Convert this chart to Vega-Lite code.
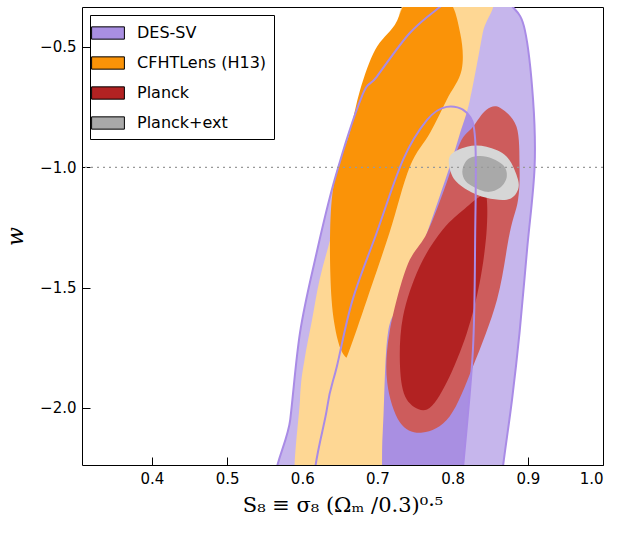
{
  "$schema": "https://vega.github.io/schema/vega-lite/v6.json",
  "autosize": "none",
  "width": 521,
  "height": 458,
  "padding": {"left": 82, "top": 7, "right": 18, "bottom": 69},
  "config": {
    "font": "DejaVu Sans",
    "view": {"stroke": "black", "strokeWidth": 1},
    "axis": {"grid": false, "domain": false, "tickSize": -8, "tickColor": "black", "labelFontSize": 15, "labelColor": "black", "labelPadding": 14, "titleFontWeight": "normal", "titleColor": "black"}
  },
  "datasets": {
    "shapes": [
      {"s": "desOut", "o": 1, "x": 0.570, "y": -2.40},
      {"s": "desOut", "o": 2, "x": 0.584, "y": -2.048},
      {"s": "desOut", "o": 3, "x": 0.597, "y": -1.687},
      {"s": "desOut", "o": 4, "x": 0.617, "y": -1.384},
      {"s": "desOut", "o": 5, "x": 0.643, "y": -1.052},
      {"s": "desOut", "o": 6, "x": 0.679, "y": -0.707},
      {"s": "desOut", "o": 7, "x": 0.699, "y": -0.624},
      {"s": "desOut", "o": 8, "x": 0.743, "y": -0.442},
      {"s": "desOut", "o": 9, "x": 0.783, "y": -0.334},
      {"s": "desOut", "o": 10, "x": 0.80, "y": -0.30},
      {"s": "desOut", "o": 11, "x": 0.86, "y": -0.30},
      {"s": "desOut", "o": 12, "x": 0.880, "y": -0.334},
      {"s": "desOut", "o": 13, "x": 0.896, "y": -0.429},
      {"s": "desOut", "o": 14, "x": 0.907, "y": -0.720},
      {"s": "desOut", "o": 15, "x": 0.909, "y": -1.0},
      {"s": "desOut", "o": 16, "x": 0.899, "y": -1.342},
      {"s": "desOut", "o": 17, "x": 0.889, "y": -1.687},
      {"s": "desOut", "o": 18, "x": 0.879, "y": -1.965},
      {"s": "desOut", "o": 19, "x": 0.867, "y": -2.243},
      {"s": "desOut", "o": 20, "x": 0.862, "y": -2.40},
      {"s": "desOut", "o": 21, "x": 0.72, "y": -2.55},
      {"s": "desIn", "o": 1, "x": 0.620, "y": -2.40},
      {"s": "desIn", "o": 2, "x": 0.633, "y": -2.0},
      {"s": "desIn", "o": 3, "x": 0.646, "y": -1.828},
      {"s": "desIn", "o": 4, "x": 0.667, "y": -1.550},
      {"s": "desIn", "o": 5, "x": 0.699, "y": -1.272},
      {"s": "desIn", "o": 6, "x": 0.734, "y": -0.969},
      {"s": "desIn", "o": 7, "x": 0.766, "y": -0.803},
      {"s": "desIn", "o": 8, "x": 0.792, "y": -0.749},
      {"s": "desIn", "o": 9, "x": 0.819, "y": -0.774},
      {"s": "desIn", "o": 10, "x": 0.830, "y": -0.886},
      {"s": "desIn", "o": 11, "x": 0.830, "y": -1.272},
      {"s": "desIn", "o": 12, "x": 0.827, "y": -1.757},
      {"s": "desIn", "o": 13, "x": 0.814, "y": -2.243},
      {"s": "desIn", "o": 14, "x": 0.810, "y": -2.40},
      {"s": "desIn", "o": 15, "x": 0.72, "y": -2.50},
      {"s": "cfOut", "o": 1, "x": 0.592, "y": -2.40},
      {"s": "cfOut", "o": 2, "x": 0.597, "y": -1.965},
      {"s": "cfOut", "o": 3, "x": 0.603, "y": -1.799},
      {"s": "cfOut", "o": 4, "x": 0.613, "y": -1.633},
      {"s": "cfOut", "o": 5, "x": 0.623, "y": -1.467},
      {"s": "cfOut", "o": 6, "x": 0.637, "y": -1.301},
      {"s": "cfOut", "o": 7, "x": 0.650, "y": -1.135},
      {"s": "cfOut", "o": 8, "x": 0.666, "y": -0.969},
      {"s": "cfOut", "o": 9, "x": 0.683, "y": -0.803},
      {"s": "cfOut", "o": 10, "x": 0.703, "y": -0.637},
      {"s": "cfOut", "o": 11, "x": 0.723, "y": -0.492},
      {"s": "cfOut", "o": 12, "x": 0.743, "y": -0.30},
      {"s": "cfOut", "o": 13, "x": 0.848, "y": -0.30},
      {"s": "cfOut", "o": 14, "x": 0.840, "y": -0.442},
      {"s": "cfOut", "o": 15, "x": 0.823, "y": -0.720},
      {"s": "cfOut", "o": 16, "x": 0.810, "y": -0.857},
      {"s": "cfOut", "o": 17, "x": 0.796, "y": -0.998},
      {"s": "cfOut", "o": 18, "x": 0.766, "y": -1.272},
      {"s": "cfOut", "o": 19, "x": 0.734, "y": -1.550},
      {"s": "cfOut", "o": 20, "x": 0.714, "y": -1.687},
      {"s": "cfOut", "o": 21, "x": 0.707, "y": -2.102},
      {"s": "cfOut", "o": 22, "x": 0.699, "y": -2.40},
      {"s": "cfOut", "o": 23, "x": 0.645, "y": -2.50},
      {"s": "cfIn", "o": 1, "x": 0.743, "y": -0.30},
      {"s": "cfIn", "o": 2, "x": 0.792, "y": -0.30},
      {"s": "cfIn", "o": 3, "x": 0.810, "y": -0.442},
      {"s": "cfIn", "o": 4, "x": 0.812, "y": -0.595},
      {"s": "cfIn", "o": 5, "x": 0.792, "y": -0.720},
      {"s": "cfIn", "o": 6, "x": 0.770, "y": -0.857},
      {"s": "cfIn", "o": 7, "x": 0.743, "y": -0.998},
      {"s": "cfIn", "o": 8, "x": 0.716, "y": -1.272},
      {"s": "cfIn", "o": 9, "x": 0.686, "y": -1.550},
      {"s": "cfIn", "o": 10, "x": 0.663, "y": -1.757},
      {"s": "cfIn", "o": 11, "x": 0.657, "y": -1.786},
      {"s": "cfIn", "o": 12, "x": 0.647, "y": -1.716},
      {"s": "cfIn", "o": 13, "x": 0.639, "y": -1.550},
      {"s": "cfIn", "o": 14, "x": 0.637, "y": -1.272},
      {"s": "cfIn", "o": 15, "x": 0.643, "y": -1.052},
      {"s": "cfIn", "o": 16, "x": 0.663, "y": -0.857},
      {"s": "cfIn", "o": 17, "x": 0.677, "y": -0.678},
      {"s": "cfIn", "o": 18, "x": 0.697, "y": -0.512},
      {"s": "cfIn", "o": 19, "x": 0.723, "y": -0.409},
      {"s": "plOut", "o": 1, "x": 0.863, "y": -0.753},
      {"s": "plOut", "o": 2, "x": 0.885, "y": -0.832},
      {"s": "plOut", "o": 3, "x": 0.889, "y": -0.998},
      {"s": "plOut", "o": 4, "x": 0.887, "y": -1.135},
      {"s": "plOut", "o": 5, "x": 0.876, "y": -1.272},
      {"s": "plOut", "o": 6, "x": 0.859, "y": -1.550},
      {"s": "plOut", "o": 7, "x": 0.827, "y": -1.828},
      {"s": "plOut", "o": 8, "x": 0.796, "y": -2.035},
      {"s": "plOut", "o": 9, "x": 0.760, "y": -2.102},
      {"s": "plOut", "o": 10, "x": 0.730, "y": -2.060},
      {"s": "plOut", "o": 11, "x": 0.713, "y": -1.894},
      {"s": "plOut", "o": 12, "x": 0.716, "y": -1.687},
      {"s": "plOut", "o": 13, "x": 0.739, "y": -1.413},
      {"s": "plOut", "o": 14, "x": 0.766, "y": -1.272},
      {"s": "plOut", "o": 15, "x": 0.792, "y": -1.064},
      {"s": "plOut", "o": 16, "x": 0.810, "y": -0.898},
      {"s": "plOut", "o": 17, "x": 0.827, "y": -0.832},
      {"s": "plOut", "o": 18, "x": 0.845, "y": -0.761},
      {"s": "plIn", "o": 1, "x": 0.845, "y": -1.122},
      {"s": "plIn", "o": 2, "x": 0.845, "y": -1.272},
      {"s": "plIn", "o": 3, "x": 0.836, "y": -1.479},
      {"s": "plIn", "o": 4, "x": 0.819, "y": -1.687},
      {"s": "plIn", "o": 5, "x": 0.792, "y": -1.894},
      {"s": "plIn", "o": 6, "x": 0.766, "y": -2.006},
      {"s": "plIn", "o": 7, "x": 0.739, "y": -1.965},
      {"s": "plIn", "o": 8, "x": 0.730, "y": -1.828},
      {"s": "plIn", "o": 9, "x": 0.734, "y": -1.620},
      {"s": "plIn", "o": 10, "x": 0.756, "y": -1.413},
      {"s": "plIn", "o": 11, "x": 0.787, "y": -1.259},
      {"s": "plIn", "o": 12, "x": 0.819, "y": -1.164},
      {"s": "plIn", "o": 13, "x": 0.836, "y": -1.122},
      {"s": "extOut", "o": 1, "x": 0.796, "y": -0.956},
      {"s": "extOut", "o": 2, "x": 0.819, "y": -0.915},
      {"s": "extOut", "o": 3, "x": 0.845, "y": -0.915},
      {"s": "extOut", "o": 4, "x": 0.872, "y": -0.956},
      {"s": "extOut", "o": 5, "x": 0.887, "y": -1.052},
      {"s": "extOut", "o": 6, "x": 0.885, "y": -1.106},
      {"s": "extOut", "o": 7, "x": 0.872, "y": -1.135},
      {"s": "extOut", "o": 8, "x": 0.845, "y": -1.127},
      {"s": "extOut", "o": 9, "x": 0.819, "y": -1.093},
      {"s": "extOut", "o": 10, "x": 0.800, "y": -1.039},
      {"s": "extIn", "o": 1, "x": 0.814, "y": -0.998},
      {"s": "extIn", "o": 2, "x": 0.823, "y": -0.961},
      {"s": "extIn", "o": 3, "x": 0.845, "y": -0.956},
      {"s": "extIn", "o": 4, "x": 0.867, "y": -0.990},
      {"s": "extIn", "o": 5, "x": 0.872, "y": -1.039},
      {"s": "extIn", "o": 6, "x": 0.863, "y": -1.085},
      {"s": "extIn", "o": 7, "x": 0.845, "y": -1.102},
      {"s": "extIn", "o": 8, "x": 0.823, "y": -1.073},
      {"s": "extIn", "o": 9, "x": 0.814, "y": -1.039}
    ],
    "legend": [
      {"name": "DES-SV"},
      {"name": "CFHTLens (H13)"},
      {"name": "Planck"},
      {"name": "Planck+ext"}
    ]
  },
  "data": {"name": "shapes"},
  "encoding": {
    "x": {"field": "x", "type": "quantitative", "scale": {"domain": [0.307, 1.0], "nice": false, "zero": false},
      "axis": {"values": [0.4, 0.5, 0.6, 0.7, 0.8, 0.9, 1.0], "format": ".1f", "title": "S₈ ≡ σ₈ (Ωₘ /0.3)⁰·⁵", "titleFont": "DejaVu Serif", "titleFontSize": 21, "titlePadding": 8}},
    "y": {"field": "y", "type": "quantitative", "scale": {"domain": [-2.237, -0.334], "nice": false, "zero": false},
      "axis": {"values": [-2.0, -1.5, -1.0, -0.5], "format": ".1f", "title": "w", "titleFont": "DejaVu Serif", "titleFontStyle": "italic", "titleFontSize": 22, "titleAngle": -90, "titlePadding": 12}},
    "order": {"field": "o", "type": "quantitative"}
  },
  "layer": [
    {"transform": [{"filter": "datum.s == 'desOut'"}], "mark": {"type": "line", "clip": true, "interpolate": "cardinal-closed", "fill": "#c6b6ec", "strokeWidth": 0}},
    {"transform": [{"filter": "datum.s == 'desIn'"}], "mark": {"type": "line", "clip": true, "interpolate": "cardinal-closed", "fill": "#a98fe2", "strokeWidth": 0}},
    {"transform": [{"filter": "datum.s == 'cfOut'"}], "mark": {"type": "line", "clip": true, "interpolate": "cardinal-closed", "fill": "#fed794", "strokeWidth": 0}},
    {"transform": [{"filter": "datum.s == 'cfIn'"}], "mark": {"type": "line", "clip": true, "interpolate": "cardinal-closed", "fill": "#fa9308", "strokeWidth": 0}},
    {"transform": [{"filter": "datum.s == 'plOut'"}], "mark": {"type": "line", "clip": true, "interpolate": "cardinal-closed", "fill": "#cd5c5c", "strokeWidth": 0}},
    {"transform": [{"filter": "datum.s == 'plIn'"}], "mark": {"type": "line", "clip": true, "interpolate": "cardinal-closed", "fill": "#b22222", "strokeWidth": 0}},
    {"transform": [{"filter": "datum.s == 'extOut'"}], "mark": {"type": "line", "clip": true, "interpolate": "cardinal-closed", "fill": "#d6d6d6", "strokeWidth": 0}},
    {"transform": [{"filter": "datum.s == 'extIn'"}], "mark": {"type": "line", "clip": true, "interpolate": "cardinal-closed", "fill": "#a9a9a9", "strokeWidth": 0}},
    {"transform": [{"filter": "datum.s == 'desOut'"}], "mark": {"type": "line", "clip": true, "interpolate": "cardinal-closed", "color": "#a98be6", "strokeWidth": 2}},
    {"transform": [{"filter": "datum.s == 'desIn'"}], "mark": {"type": "line", "clip": true, "interpolate": "cardinal-closed", "color": "#a98be6", "strokeWidth": 2}},
    {
      "data": {"values": [{"v": -1.0}]},
      "mark": {"type": "rule", "color": "#999999", "strokeDash": [2, 4], "strokeWidth": 1.2},
      "encoding": {"y": {"field": "v", "type": "quantitative"}, "x": null, "order": null}
    },
    {
      "data": {"name": "legend"},
      "mark": {"type": "point", "opacity": 0},
      "encoding": {
        "x": null, "y": null, "order": null,
        "fill": {"field": "name", "type": "nominal", "title": null,
          "scale": {"domain": ["DES-SV", "CFHTLens (H13)", "Planck", "Planck+ext"], "range": ["#a98fe2", "#fa9308", "#b22222", "#a9a9a9"]},
          "legend": {"orient": "top-left", "offset": 8, "symbolType": "M-1.6,-0.6H1.6V0.6H-1.6Z", "symbolSize": 420, "symbolStrokeColor": "black", "symbolStrokeWidth": 1, "symbolOpacity": 1, "labelFontSize": 16, "labelColor": "black", "strokeColor": "black", "fillColor": "white", "padding": 7, "rowPadding": 10, "labelOffset": 18}
        }
      }
    }
  ]
}
